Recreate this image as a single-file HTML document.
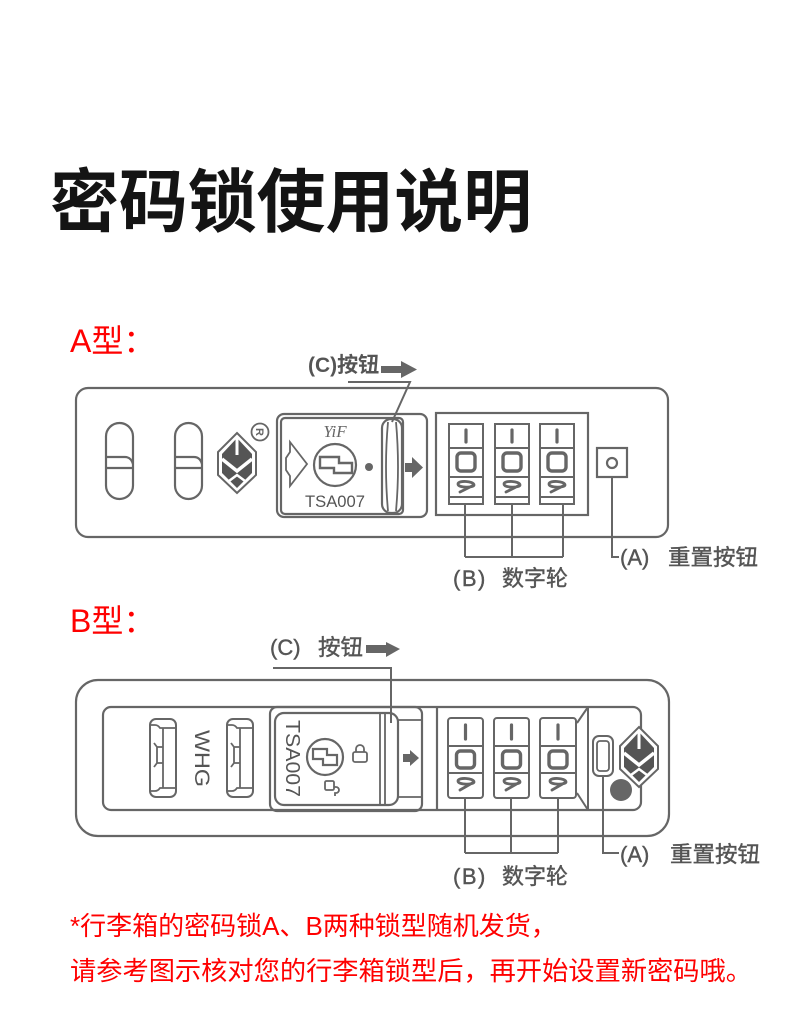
<!DOCTYPE html>
<html><head><meta charset="utf-8"><style>
html,body{margin:0;padding:0;background:#fff;}
svg{display:block;}
</style></head><body>
<svg width="790" height="1011" viewBox="0 0 790 1011" xmlns="http://www.w3.org/2000/svg" font-family="'Liberation Sans','Noto Sans CJK SC',sans-serif">
<rect width="790" height="1011" fill="#fff"/>

<!-- Title -->
<text x="50" y="226" font-size="69" font-weight="bold" fill="#141414" textLength="482" lengthAdjust="spacingAndGlyphs">密码锁使用说明</text>

<!-- A型 -->
<text x="70" y="352" font-size="32" fill="#f00">A型：</text>

<!-- (C)按钮 A label -->
<text x="308" y="372" font-size="21" font-weight="bold" fill="#555">(C)按钮</text>
<rect x="381" y="366" width="22" height="7" fill="#666"/>
<polygon points="401,361 417,369.5 401,378" fill="#666"/>
<polyline points="348,382 410,382 392,422" fill="none" stroke="#666" stroke-width="2"/>

<g fill="none" stroke="#666" stroke-width="2.2">
  <!-- Lock A outer -->
  <rect x="76" y="388" width="592" height="149" rx="12"/>
  <!-- sliders -->
  <rect x="106" y="423" width="27" height="76" rx="13.5"/>
  <path d="M106,457 h19 q6,0 8,7 M106,468 h27"/>
  <rect x="175" y="423" width="27" height="76" rx="13.5"/>
  <path d="M175,457 h19 q6,0 8,7 M175,468 h27"/>
  <!-- registered mark -->
  <circle cx="260" cy="432" r="8.5" stroke-width="1.8"/>
  <!-- TSA panel -->
  <rect x="277" y="414" width="150" height="103" rx="7"/>
  <rect x="281" y="418" width="122" height="96" rx="4"/>
  <rect x="382" y="419" width="20" height="94" rx="9"/>
  <path d="M388,422 Q384,467 388,511 M396,422 Q400,467 396,511" stroke-width="1.8"/>
  <path d="M290,442 L307,464 L290,486 L290,476 L286,470 L286,458 L290,452 Z" stroke-width="1.8"/>
  <circle cx="335" cy="465" r="21"/>
  <polygon points="320,457 339,457 339,463 352,463 352,473 334,473 334,468 320,468" stroke-width="2.4"/>
  <!-- wheel box -->
  <rect x="436" y="413" width="152" height="102"/>
  <!-- reset -->
  <rect x="597" y="448" width="30" height="29"/>
  <circle cx="612" cy="463" r="5"/>
</g>
<text x="260" y="436" font-size="11" fill="#666" transform="rotate(90 260 432)" text-anchor="middle" font-weight="bold">R</text>
<text x="335" y="437" font-size="17" font-style="italic" font-family="'Liberation Serif',serif" fill="#666" text-anchor="middle">YiF</text>
<text x="305" y="507" font-size="17" fill="#555" textLength="60" lengthAdjust="spacingAndGlyphs">TSA007</text>
<circle cx="369" cy="467" r="4" fill="#666"/>
<rect x="405" y="463" width="9" height="9" fill="#666"/>
<polygon points="412,457 423,467.5 412,478" fill="#666"/>

<!-- Logo A -->
<g transform="translate(237,463)">
  <polygon points="0,-30 19,-11 19,12 0,30 -19,12 -19,-11" fill="#fff" stroke="#666" stroke-width="2"/>
  <polygon points="0,-25 15,-9 15,10 0,25 -15,10 -15,-9" fill="#555"/>
  <line x1="0" y1="-25" x2="0" y2="-8" stroke="#fff" stroke-width="3"/>
  <polyline points="-15,-4 0,8 15,-4" fill="none" stroke="#fff" stroke-width="3.5"/>
  <polyline points="-8,18 0,12 8,18" fill="none" stroke="#fff" stroke-width="2.5"/>
</g>

<!-- Wheels A -->
<g fill="none" stroke="#666" stroke-width="2">
  <g transform="translate(449,0)">
    <rect x="0" y="424" width="34" height="80"/>
    <path d="M0,448 h34 M0,477 h34 M0,497 h34"/>
    <line x1="17" y1="430" x2="17" y2="442" stroke-width="3.2" stroke-linecap="round"/>
    <rect x="8" y="453" width="18" height="18" rx="4" stroke-width="3.4"/>
    <path d="M25,485 C25,481 9,480 9,484 C9,488 25,488 25,485 L11,492" stroke-width="2.8" stroke-linejoin="round" stroke-linecap="round"/>
  </g>
  <g transform="translate(495,0)">
    <rect x="0" y="424" width="34" height="80"/>
    <path d="M0,448 h34 M0,477 h34 M0,497 h34"/>
    <line x1="17" y1="430" x2="17" y2="442" stroke-width="3.2" stroke-linecap="round"/>
    <rect x="8" y="453" width="18" height="18" rx="4" stroke-width="3.4"/>
    <path d="M25,485 C25,481 9,480 9,484 C9,488 25,488 25,485 L11,492" stroke-width="2.8" stroke-linejoin="round" stroke-linecap="round"/>
  </g>
  <g transform="translate(540,0)">
    <rect x="0" y="424" width="34" height="80"/>
    <path d="M0,448 h34 M0,477 h34 M0,497 h34"/>
    <line x1="17" y1="430" x2="17" y2="442" stroke-width="3.2" stroke-linecap="round"/>
    <rect x="8" y="453" width="18" height="18" rx="4" stroke-width="3.4"/>
    <path d="M25,485 C25,481 9,480 9,484 C9,488 25,488 25,485 L11,492" stroke-width="2.8" stroke-linejoin="round" stroke-linecap="round"/>
  </g>
  <!-- connectors A -->
  <path d="M465,504 V557 M512,504 V557 M563,504 V557 M465,557 H563"/>
  <path d="M612,477 V557 H619"/>
</g>
<text x="620" y="565" font-size="22" fill="#555" stroke="#555" stroke-width="0.4">(A)</text>
<text x="668" y="565" font-size="22" fill="#555" stroke="#555" stroke-width="0.4" textLength="90" lengthAdjust="spacingAndGlyphs">重置按钮</text>
<text x="453" y="586" font-size="22" fill="#555" stroke="#555" stroke-width="0.4" letter-spacing="1.5">(B)</text>
<text x="502" y="586" font-size="22" fill="#555" stroke="#555" stroke-width="0.4" textLength="66" lengthAdjust="spacingAndGlyphs">数字轮</text>

<!-- B型 -->
<text x="70" y="632" font-size="32" fill="#f00">B型：</text>

<!-- (C) 按钮 B -->
<text x="270" y="655" font-size="22" fill="#555" stroke="#555" stroke-width="0.4">(C)</text>
<text x="318" y="655" font-size="22" fill="#555" stroke="#555" stroke-width="0.4" textLength="45" lengthAdjust="spacingAndGlyphs">按钮</text>
<rect x="366" y="645" width="21" height="8" fill="#666"/>
<polygon points="386,642 400,649 386,657" fill="#666"/>
<polyline points="273,668 391,668 391,723" fill="none" stroke="#666" stroke-width="2"/>

<g fill="none" stroke="#666" stroke-width="2.2">
  <rect x="76" y="680" width="593" height="156" rx="22"/>
  <rect x="103" y="707" width="538" height="103" rx="8"/>
  <!-- sliders B -->
  <rect x="150" y="719" width="26" height="78" rx="6" stroke-width="2"/>
  <path d="M150,725 h5 q3,0 5,3 h3 M163,728 h13 M150,791 h5 q3,0 5,-3 h3 M163,788 h13 M163,728 V788 M163,747 h-6 v16 h6 M157,747 l-3,-4 M157,763 l-3,4" stroke-width="1.8"/>
  <rect x="227" y="719" width="26" height="78" rx="6" stroke-width="2"/>
  <path d="M227,725 h5 q3,0 5,3 h3 M240,728 h13 M227,791 h5 q3,0 5,-3 h3 M240,788 h13 M240,728 V788 M240,747 h-6 v16 h6 M234,747 l-3,-4 M234,763 l-3,4" stroke-width="1.8"/>
  <!-- TSA B -->
  <rect x="270" y="707" width="152" height="104" rx="7"/>
  <rect x="275" y="713" width="123" height="92" rx="9"/>
  <path d="M380,713 V805 M385,713 V805" stroke-width="1.8"/>
  <path d="M398,720 H422 M398,797 H422" stroke-width="1.8"/>
  <circle cx="325" cy="757" r="18"/>
  <polygon points="313,749 327,749 327,755 337,755 337,765 323,765 323,759 313,759" stroke-width="2.2"/>
  <rect x="353" y="752" width="14" height="10" rx="2" stroke-width="1.8"/>
  <path d="M356,752 v-3 a4,4 0 0 1 8,0 v3" stroke-width="1.8"/>
  <rect x="325" y="781" width="9" height="9" rx="1.5" stroke-width="1.8"/>
  <path d="M334,787 h2 a3,3 0 0 1 0,6 h-1 v3" stroke-width="1.8"/>
  <!-- divider -->
  <path d="M437,707 V810"/>
  <path d="M577,723 L588,707 M577,793 L588,810 M588,707 V810" stroke-width="2"/>
  <!-- reset B -->
  <rect x="593" y="736" width="20" height="40" rx="6" stroke-width="2"/>
  <rect x="597" y="741" width="12" height="30" rx="3" stroke-width="1.8"/>
</g>
<text x="0" y="0" font-size="21" fill="#555" transform="translate(195,730) rotate(90)" textLength="57" lengthAdjust="spacingAndGlyphs">WHG</text>
<text x="0" y="0" font-size="20" fill="#555" transform="translate(286,720) rotate(90)" textLength="77" lengthAdjust="spacingAndGlyphs">TSA007</text>
<rect x="403" y="754" width="8" height="8" fill="#666"/>
<polygon points="410,750 419,758 410,766" fill="#666"/>
<circle cx="621" cy="790" r="11" fill="#666"/>

<!-- Logo B -->
<g transform="translate(639,757)">
  <polygon points="0,-30 19,-11 19,12 0,30 -19,12 -19,-11" fill="#fff" stroke="#666" stroke-width="2"/>
  <polygon points="0,-25 15,-9 15,10 0,25 -15,10 -15,-9" fill="#555"/>
  <line x1="0" y1="-25" x2="0" y2="-8" stroke="#fff" stroke-width="3"/>
  <polyline points="-15,-4 0,8 15,-4" fill="none" stroke="#fff" stroke-width="3.5"/>
  <polyline points="-8,18 0,12 8,18" fill="none" stroke="#fff" stroke-width="2.5"/>
</g>

<!-- Wheels B -->
<g fill="none" stroke="#666" stroke-width="2">
  <g transform="translate(448,0)">
    <rect x="0" y="718" width="35" height="80" rx="3"/>
    <path d="M0,746 h35 M0,773 h35"/>
    <line x1="17.5" y1="725" x2="17.5" y2="739" stroke-width="3.2" stroke-linecap="round"/>
    <rect x="8.5" y="751" width="18" height="17" rx="4" stroke-width="3.4"/>
    <path d="M26,782 C26,778 10,777 10,781 C10,785 26,785 26,782 L12,790" stroke-width="2.8" stroke-linejoin="round" stroke-linecap="round"/>
  </g>
  <g transform="translate(494,0)">
    <rect x="0" y="718" width="35" height="80" rx="3"/>
    <path d="M0,746 h35 M0,773 h35"/>
    <line x1="17.5" y1="725" x2="17.5" y2="739" stroke-width="3.2" stroke-linecap="round"/>
    <rect x="8.5" y="751" width="18" height="17" rx="4" stroke-width="3.4"/>
    <path d="M26,782 C26,778 10,777 10,781 C10,785 26,785 26,782 L12,790" stroke-width="2.8" stroke-linejoin="round" stroke-linecap="round"/>
  </g>
  <g transform="translate(540,0)">
    <rect x="0" y="718" width="36" height="80" rx="3"/>
    <path d="M0,746 h36 M0,773 h36"/>
    <line x1="18" y1="725" x2="18" y2="739" stroke-width="3.2" stroke-linecap="round"/>
    <rect x="9" y="751" width="18" height="17" rx="4" stroke-width="3.4"/>
    <path d="M26,782 C26,778 10,777 10,781 C10,785 26,785 26,782 L12,790" stroke-width="2.8" stroke-linejoin="round" stroke-linecap="round"/>
  </g>
  <path d="M465,798 V853 M511,798 V853 M558,798 V853 M465,853 H558"/>
  <path d="M603,776 V853 H619"/>
</g>
<text x="620" y="862" font-size="22" fill="#555" stroke="#555" stroke-width="0.4">(A)</text>
<text x="670" y="862" font-size="22" fill="#555" stroke="#555" stroke-width="0.4" textLength="90" lengthAdjust="spacingAndGlyphs">重置按钮</text>
<text x="453" y="884" font-size="22" fill="#555" stroke="#555" stroke-width="0.4" letter-spacing="1.5">(B)</text>
<text x="502" y="884" font-size="22" fill="#555" stroke="#555" stroke-width="0.4" textLength="66" lengthAdjust="spacingAndGlyphs">数字轮</text>

<!-- Notes -->
<text x="70" y="935" font-size="26" fill="#f00">*行李箱的密码锁A、B两种锁型随机发货，</text>
<text x="70" y="980" font-size="26" fill="#f00" textLength="682" lengthAdjust="spacingAndGlyphs">请参考图示核对您的行李箱锁型后，再开始设置新密码哦。</text>
</svg>
</body></html>
